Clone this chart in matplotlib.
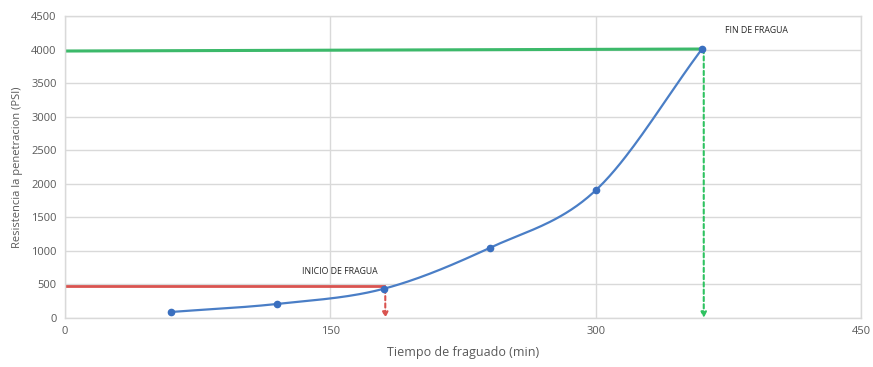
import numpy as np
import matplotlib
matplotlib.use("Agg")
import matplotlib.pyplot as plt

# Setting-time test data
tiempo = [60, 120, 180, 240, 300, 360]          # min
resistencia = [90, 210, 435, 1045, 1905, 4010]  # PSI

x_ticks = [0, 150, 300, 450]
y_ticks = list(range(0, 4501, 500))

inicio_x, inicio_y = 180, 470       # initial set level
fin_x, fin_y0, fin_y1 = 360, 3980, 4010   # final set level

plt.rcParams['font.family'] = ['Open Sans', 'DejaVu Sans']


def catmull_rom(xs, ys, n=40):
    """Smooth curve through the points (Excel-style smoothed line)."""
    pts = np.column_stack([xs, ys]).astype(float)
    p = np.vstack([pts[0] - (pts[1] - pts[0]), pts, pts[-1] + (pts[-1] - pts[-2])])
    out = []
    for i in range(1, len(p) - 2):
        p0, p1, p2, p3 = p[i - 1], p[i], p[i + 1], p[i + 2]
        c1 = p1 + (p2 - p0) / 6.0
        c2 = p2 - (p3 - p1) / 6.0
        t = np.linspace(0, 1, n)[:, None]
        seg = ((1 - t) ** 3) * p1 + 3 * ((1 - t) ** 2) * t * c1 + 3 * (1 - t) * t ** 2 * c2 + t ** 3 * p2
        out.append(seg if i == 1 else seg[1:])
    seg = np.vstack(out)
    return seg[:, 0], seg[:, 1]


fig = plt.figure(figsize=(8.73, 3.67), dpi=100)
ax = fig.add_axes([0.0745, 0.1335, 0.912, 0.8225])

grid_c = '#d9d9d9'
ax.set_xlim(0, 450)
ax.set_ylim(0, 4500)
ax.set_xticks(x_ticks)
ax.set_yticks(y_ticks)
ax.grid(True, color=grid_c, linewidth=1.0)
ax.set_axisbelow(True)
for s in ax.spines.values():
    s.set_color(grid_c)
    s.set_linewidth(1.0)
ax.tick_params(length=0, colors='#595959', labelsize=8, pad=6)

# reference lines for initial and final set
ax.plot([0, inicio_x], [inicio_y, inicio_y], color='#d9534f', linewidth=2.0, zorder=2)
ax.plot([0, fin_x], [fin_y0, fin_y1], color='#3cb96a', linewidth=2.2, zorder=2)

# dashed drop lines with arrowheads
ax.annotate('', xy=(inicio_x + 1, 0), xytext=(inicio_x + 1, resistencia[2]),
            arrowprops=dict(arrowstyle='-|>', color='#d9534f', linestyle=(0, (2, 1.5)),
                            linewidth=1.5, mutation_scale=8, shrinkA=0, shrinkB=0), zorder=2)
ax.annotate('', xy=(fin_x + 1, 0), xytext=(fin_x + 1, resistencia[-1]),
            arrowprops=dict(arrowstyle='-|>', color='#2ec260', linestyle=(0, (2, 1.5)),
                            linewidth=1.5, mutation_scale=8, shrinkA=0, shrinkB=0), zorder=2)

# smoothed data series
sx, sy = catmull_rom(tiempo, resistencia)
ax.plot(sx, sy, color='#4a7ec6', linewidth=1.6, zorder=3)
ax.plot(tiempo, resistencia, 'o', color='#3a6fbf', markersize=4.5, zorder=4)

ax.text(134, 690, 'INICIO DE FRAGUA', fontsize=6.3, color='#262626', va='center', ha='left')
ax.text(373, 4280, 'FIN DE FRAGUA', fontsize=6.3, color='#262626', va='center', ha='left')

ax.set_xlabel('Tiempo de fraguado (min)', fontsize=9, color='#595959', labelpad=6)
ax.set_ylabel('Resistencia la penetracion (PSI)', fontsize=8, color='#595959', labelpad=6)

fig.savefig('out.png', dpi=100)
